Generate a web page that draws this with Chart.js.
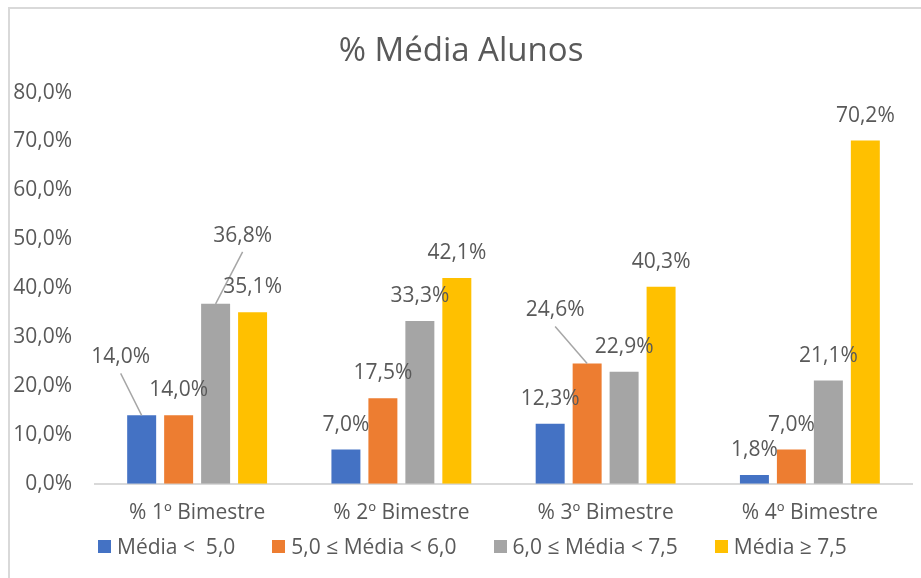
<!DOCTYPE html>
<html>
<head>
<meta charset="utf-8">
<script src="https://cdn.jsdelivr.net/npm/chart.js@4"></script>
<style>
  body { margin: 0; background: #fff; font-family: "Open Sans", sans-serif; }
  #frame {
    position: absolute; left: 8px; top: 7px;
    width: 911px; height: 569px;
    border-left: 2px solid #d9d9d9; border-top: 2px solid #d9d9d9;
  }
  #legend {
    position: absolute; left: 98px; top: 532px;
    display: flex; gap: 37px; align-items: center;
    font-size: 21px; color: #595959; white-space: pre;
  }
  #legend .item { display: flex; align-items: center; }
  #legend .box { width: 13px; height: 13px; margin-right: 6px; }
</style>
</head>
<body>
<div id="frame"><canvas id="myChart" width="911" height="569"></canvas></div>
<div id="legend"></div>
<script>
  const categories = ['% 1º Bimestre', '% 2º Bimestre', '% 3º Bimestre', '% 4º Bimestre'];
  const seriesNames = ['Média <  5,0', '5,0 ≤ Média < 6,0', '6,0 ≤ Média < 7,5', 'Média ≥ 7,5'];
  const below50 = [14.0, 7.0, 12.3, 1.8];
  const from50to60 = [14.0, 17.5, 24.6, 7.0];
  const from60to75 = [36.8, 33.3, 22.9, 21.1];
  const above75 = [35.1, 42.1, 40.3, 70.2];
  const yTicks = [0, 10, 20, 30, 40, 50, 60, 70, 80];

  const colors = ['#4472C4', '#ED7D31', '#A5A5A5', '#FFC000'];
  const textColor = '#595959';
  const fontFamily = '"Open Sans", sans-serif';

  // labels that were dragged away from their bar in the original (dataset-index: [dx, dy])
  const movedLabels = { '0-0': [-21, -33], '2-0': [27, -43], '1-2': [-32, -28] };

  const fmt = v => v.toFixed(1).replace('.', ',') + '%';

  const barLabels = {
    id: 'barLabels',
    afterDatasetsDraw(chart) {
      const ctx = chart.ctx;
      ctx.save();
      ctx.font = '21px ' + fontFamily;
      ctx.textAlign = 'center';
      ctx.textBaseline = 'middle';
      chart.data.datasets.forEach((ds, di) => {
        chart.getDatasetMeta(di).data.forEach((bar, i) => {
          let x = bar.x, y = bar.y - 25;
          const shift = movedLabels[di + '-' + i];
          if (shift) {
            x += shift[0]; y += shift[1];
            ctx.strokeStyle = '#A6A6A6';
            ctx.lineWidth = 1.5;
            ctx.beginPath();
            ctx.moveTo(x, y + 16);
            ctx.lineTo(bar.x, bar.y);
            ctx.stroke();
          }
          ctx.fillStyle = textColor;
          ctx.fillText(fmt(ds.data[i]), x, y);
        });
      });
      ctx.restore();
    }
  };

  const seriesData = [below50, from50to60, from60to75, above75];

  let myChart = new Chart(document.getElementById('myChart'), {
    type: 'bar',
    data: {
      labels: categories,
      datasets: seriesData.map((d, k) => ({
        label: seriesNames[k],
        data: d,
        backgroundColor: colors[k],
        borderWidth: 0,
        categoryPercentage: 0.724,
        barPercentage: 0.784
      }))
    },
    plugins: [barLabels],
    options: {
      responsive: false,
      animation: false,
      devicePixelRatio: 1,
      layout: { padding: { left: 0, right: 9, top: 0, bottom: 35 } },
      plugins: {
        title: {
          display: true,
          text: '% Média Alunos',
          color: textColor,
          font: { size: 33, family: fontFamily, weight: 'normal' },
          padding: { top: 23, bottom: 21 }
        },
        legend: { display: false },
        tooltip: { enabled: false }
      },
      scales: {
        x: {
          grid: { display: false, drawTicks: false },
          border: { display: true, color: '#d9d9d9', width: 2 },
          ticks: { color: textColor, font: { size: 21, family: fontFamily }, padding: 17 }
        },
        y: {
          min: 0,
          max: 80,
          afterBuildTicks: scale => { scale.ticks = yTicks.map(v => ({ value: v })); },
          afterFit: scale => { scale.width = 85; },
          grid: { display: false, drawTicks: false },
          border: { display: false },
          ticks: {
            color: textColor,
            font: { size: 21, family: fontFamily },
            padding: 23,
            callback: v => fmt(v)
          }
        }
      }
    }
  });

  const legend = document.getElementById('legend');
  seriesNames.forEach((name, k) => {
    const item = document.createElement('div');
    item.className = 'item';
    item.innerHTML = '<span class="box" style="background:' + colors[k] + '"></span><span></span>';
    item.lastChild.textContent = name;
    legend.appendChild(item);
  });
</script>
</body>
</html>
